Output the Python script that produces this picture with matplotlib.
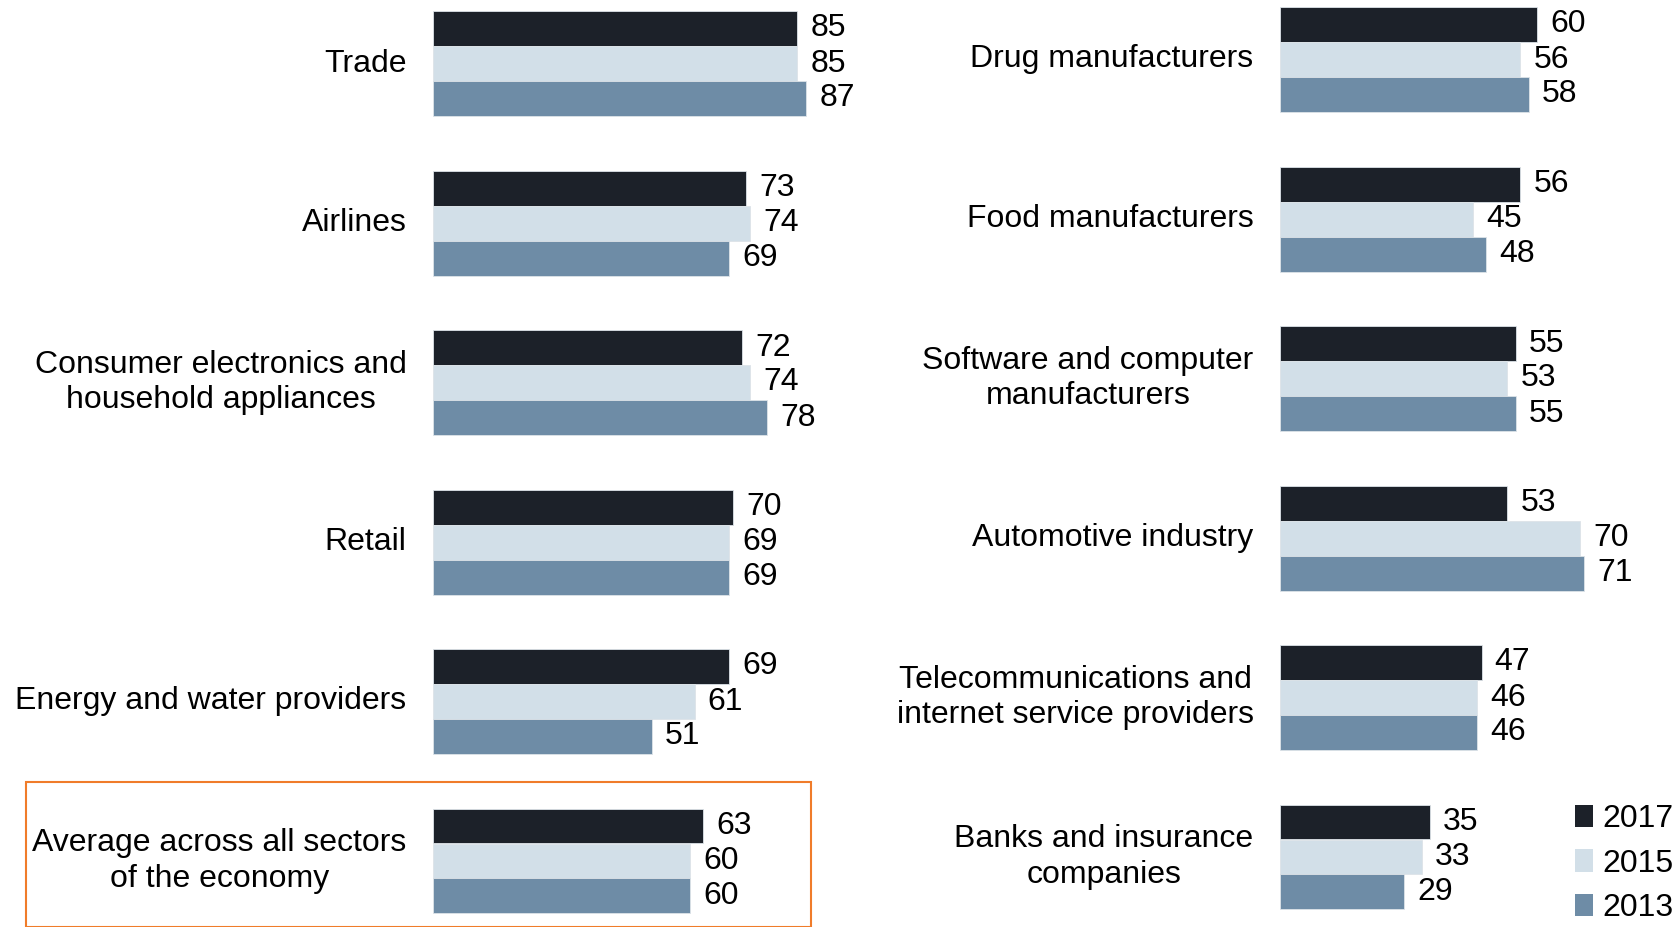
import matplotlib.pyplot as plt
from matplotlib.patches import Rectangle, Patch
import numpy as np

plt.rcParams['font.family'] = ['Liberation Sans', 'DejaVu Sans']

years = ['2017', '2015', '2013']
colors = ['#1c2129', '#d2dfe8', '#6e8ca6']

left_labels = ['Trade', 'Airlines', 'Consumer electronics and\nhousehold appliances',
               'Retail', 'Energy and water providers',
               'Average across all sectors\nof the economy']
left_2017 = [85, 73, 72, 70, 69, 63]
left_2015 = [85, 74, 74, 69, 61, 60]
left_2013 = [87, 69, 78, 69, 51, 60]

right_labels = ['Drug manufacturers', 'Food manufacturers',
                'Software and computer\nmanufacturers', 'Automotive industry',
                'Telecommunications and\ninternet service providers',
                'Banks and insurance\ncompanies']
right_2017 = [60, 56, 55, 53, 47, 35]
right_2015 = [56, 45, 53, 70, 46, 33]
right_2013 = [58, 48, 55, 71, 46, 29]

W, H = 1681, 927
fig = plt.figure(figsize=(W / 100, H / 100), dpi=100)

FS = 23
spacing = 159.5          # px between group centres
bar_h = 35 / spacing     # bar height in group units
xmax = 100
px_per_unit = 4.288


def panel(x0_px, top_center_px, labels, series):
    ax = fig.add_axes([x0_px / W, 0, xmax * px_per_unit / W, 1])
    ax.set_xlim(0, xmax)
    ax.set_ylim((H - top_center_px) / spacing, -top_center_px / spacing)
    ax.axis('off')
    y = np.arange(len(labels))
    for k, (vals, c) in enumerate(zip(series, colors)):
        yy = y + (k - 1) * bar_h
        ax.barh(yy, vals, height=bar_h, color=c, edgecolor='#dde3e8', linewidth=0.6)
        for yi, v in zip(yy, vals):
            ax.annotate(str(v), (v, yi), xytext=(9.5, 0), textcoords='offset points',
                        ha='left', va='center', fontsize=FS)
    for yi, lab in zip(y, labels):
        ax.annotate(lab, (0, yi), xytext=(-19, 0), textcoords='offset points',
                    ha='right', va='center', multialignment='center', fontsize=FS,
                    linespacing=1.25, annotation_clip=False)
    return ax


panel(433, 63.5, left_labels, [left_2017, left_2015, left_2013])
axr = panel(1280, 59.5, right_labels, [right_2017, right_2015, right_2013])

handles = [Patch(facecolor=c, edgecolor='none', label=l) for c, l in zip(colors, years)]
fig.legend(handles=handles, loc='lower right', bbox_to_anchor=(1.009, -0.02),
           frameon=False, fontsize=FS, handlelength=0.55, handleheight=0.7,
           handletextpad=0.3, labelspacing=0.45, borderpad=0.2)

fig.add_artist(Rectangle((26 / W, 0), (811 - 26) / W, (H - 782) / H,
                         transform=fig.transFigure, fill=False,
                         edgecolor='#f07c2a', linewidth=1.5))

fig.savefig('out.png', dpi=100)
